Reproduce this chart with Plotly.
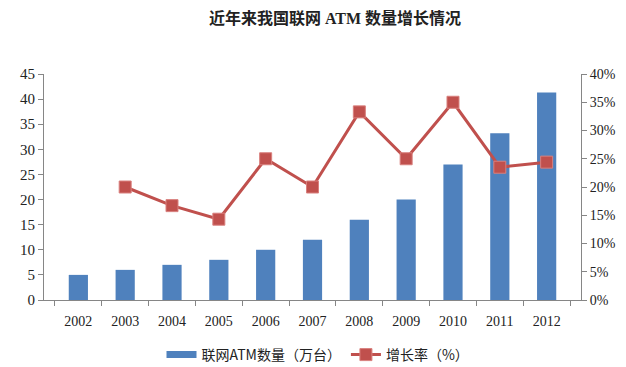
import plotly.graph_objects as go

years = ["2002", "2003", "2004", "2005", "2006", "2007", "2008", "2009", "2010", "2011", "2012"]
atm_counts = [5, 6, 7, 8, 10, 12, 16, 20, 27, 33.2, 41.3]
growth_pct = [None, 20.0, 16.7, 14.3, 25.0, 20.0, 33.3, 25.0, 35.0, 23.5, 24.4]
left_ticks = [0, 5, 10, 15, 20, 25, 30, 35, 40, 45]
right_ticks = [0, 5, 10, 15, 20, 25, 30, 35, 40]

serif = "Liberation Serif, Times New Roman, serif"
cjk = "Liberation Serif, Noto Sans CJK SC, serif"
bar_color = "#4F81BD"
line_color = "#C0504D"

fig = go.Figure()
fig.add_trace(go.Bar(
    x=years, y=atm_counts, name="联网ATM数量（万台）",
    marker=dict(color=bar_color, line=dict(width=0)),
    width=0.41, showlegend=False,
))
# legend entry for bars drawn as a wide bar swatch
fig.add_trace(go.Scatter(
    x=[None], y=[None], name="联网ATM数量（万台）", mode="lines",
    line=dict(color=bar_color, width=7),
))
fig.add_trace(go.Scatter(
    x=years, y=growth_pct, name="增长率（%）", yaxis="y2",
    mode="lines+markers",
    line=dict(color=line_color, width=3),
    marker=dict(symbol="square", size=12, color=line_color, line=dict(color="#D9807E", width=1)),
))

axis_line = "#868686"
fig.update_layout(
    width=626, height=367,
    margin=dict(l=44, r=45, t=74, b=67, autoexpand=False),
    paper_bgcolor="white", plot_bgcolor="white",
    title=dict(text="<b>近年来我国联网 ATM 数量增长情况</b>", x=335/626, xanchor="center",
               y=1 - 18/367, yanchor="middle",
               font=dict(family=cjk, size=16, color="#222222")),
    showlegend=True,
    legend=dict(orientation="h", x=318/626, xanchor="center", xref="container",
                y=12/367, yanchor="middle", yref="container",
                font=dict(family="Noto Sans CJK SC, sans-serif", size=14, color="#222222"),
                traceorder="normal", itemwidth=30),
    bargap=0.59,
    xaxis=dict(type="category", showgrid=False, showline=True, linecolor=axis_line, linewidth=1,
               ticks="outside", tickson="boundaries", ticklen=5, tickcolor=axis_line,
               automargin=False, ticklabelstandoff=8,
               tickfont=dict(family=serif, size=14, color="#222222")),
    yaxis=dict(range=[0, 45], tickvals=left_ticks, showgrid=False, zeroline=False,
               showline=True, linecolor=axis_line, ticks="outside", ticklen=5, tickcolor=axis_line,
               automargin=False,
               tickfont=dict(family=serif, size=15, color="#222222")),
    yaxis2=dict(range=[0, 40], tickvals=right_ticks, ticktext=[f"{v}%" for v in right_ticks],
                overlaying="y", side="right", showgrid=False, zeroline=False,
                showline=True, linecolor=axis_line, ticks="outside", ticklen=5, tickcolor=axis_line,
                automargin=False,
                tickfont=dict(family=serif, size=14, color="#222222")),
)

fig.write_html("out.html", config={"displayModeBar": False},
               post_script="document.body.style.margin='0';document.body.style.overflow='hidden';")
